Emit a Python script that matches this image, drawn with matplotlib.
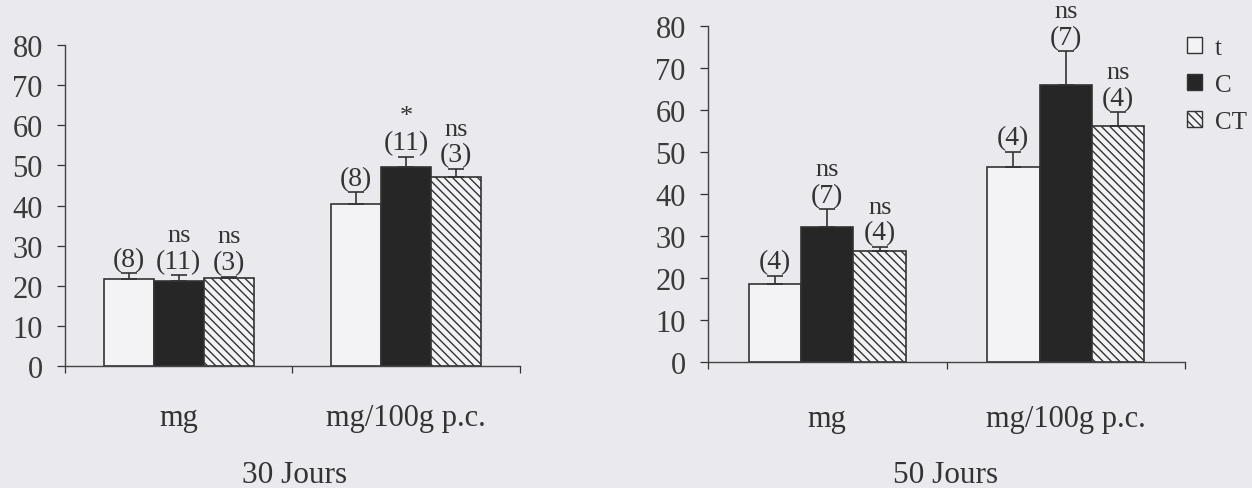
import numpy as np
import matplotlib
matplotlib.use('Agg')
import matplotlib.pyplot as plt
from matplotlib.patches import Patch

# Datos (valores medios y error superior)
categories = ['mg', 'mg/100g p.c.']
groups = ['t', 'C', 'CT']

means_30 = [[21.6, 21.2, 21.9], [40.4, 49.5, 47.0]]
err_30 = [[1.5, 1.4, 0.4], [2.9, 2.7, 2.1]]
n_30 = [['(8)', '(11)', '(3)'], ['(8)', '(11)', '(3)']]
sig_30 = [['', 'ns', 'ns'], ['', '*', 'ns']]

means_50 = [[18.6, 32.1, 26.4], [46.4, 66.0, 56.2]]
err_50 = [[1.9, 4.3, 1.0], [3.6, 8.0, 3.3]]
n_50 = [['(4)', '(7)', '(4)'], ['(4)', '(7)', '(4)']]
sig_50 = [['', 'ns', 'ns'], ['', 'ns', 'ns']]

titles = ['30 Jours', '50 Jours']

plt.rcParams['font.family'] = ['Liberation Serif', 'DejaVu Serif']
plt.rcParams['hatch.linewidth'] = 1.0

bg = '#e9e9ee'
line = '#333333'
styles = [
    dict(facecolor='#f3f3f5', edgecolor=line, hatch=None),
    dict(facecolor='#262626', edgecolor=line, hatch=None),
    dict(facecolor='#f3f3f5', edgecolor=line, hatch='\\\\\\\\'),
]

fig = plt.figure(figsize=(12.52, 4.89), dpi=100, facecolor=bg)
ax1 = fig.add_axes([0.0519, 0.2495, 0.3634, 0.6564])
ax2 = fig.add_axes([0.5655, 0.2577, 0.3810, 0.6871])

w = 0.22
x = np.arange(len(categories))


def draw_panel(ax, means, errs, ns, sigs, pad):
    ax.set_facecolor('none')
    means = np.array(means)
    errs = np.array(errs)
    for j in range(len(groups)):
        xs = x + (j - 1) * w
        ax.bar(xs, means[:, j], width=w, linewidth=1.2, zorder=2, **styles[j])
        ax.errorbar(xs, means[:, j], yerr=[np.zeros(len(xs)), errs[:, j]],
                    fmt='none', ecolor=line, elinewidth=1.2, capsize=6,
                    capthick=1.2, zorder=3)
        for i in range(len(categories)):
            top = means[i, j] + errs[i, j]
            ax.annotate(ns[i][j], (xs[i], top), xytext=(0, 10),
                        textcoords='offset points', ha='center', va='center',
                        fontsize=20, color='#333333')
            if sigs[i][j]:
                ax.annotate(sigs[i][j], (xs[i], top), xytext=(0, 29),
                            textcoords='offset points', ha='center',
                            va='center', fontsize=19, color='#333333')
    ax.set_ylim(0, 80)
    ax.set_xlim(-0.5, 1.5)
    ax.set_yticks(range(0, 81, 10))
    ax.set_xticks(x, categories)
    ax.set_xticks([-0.5, 0.5, 1.5], minor=True)
    ax.tick_params(axis='y', direction='out', length=6, width=0.9,
                   colors=line, labelsize=22, pad=10, labelcolor='#3a3a3a')
    ax.tick_params(axis='x', which='major', length=0, labelsize=22,
                   pad=pad, labelcolor='#333333')
    ax.tick_params(axis='x', which='minor', direction='out', length=5,
                   width=0.9, colors=line)
    for s in ['top', 'right']:
        ax.spines[s].set_visible(False)
    for s in ['left', 'bottom']:
        ax.spines[s].set_color('#444444')
        ax.spines[s].set_linewidth(1.0)


draw_panel(ax1, means_30, err_30, n_30, sig_30, pad=27)
draw_panel(ax2, means_50, err_50, n_50, sig_50, pad=30)

fig.text(0.2355, 0.012, titles[0], ha='center', va='baseline', fontsize=22.5,
         color='#333333')
fig.text(0.7555, 0.012, titles[1], ha='center', va='baseline', fontsize=22.5,
         color='#333333')

handles = [Patch(linewidth=1.0, **st) for st in styles]
fig.legend(handles, groups, loc='upper left', bbox_to_anchor=(0.948, 0.922),
           frameon=False, fontsize=18, handlelength=0.62, handleheight=0.62,
           handletextpad=0.5, labelspacing=0.6, borderpad=0,
           borderaxespad=0, labelcolor='#333333')

fig.savefig('out.png', dpi=100, facecolor=bg)
